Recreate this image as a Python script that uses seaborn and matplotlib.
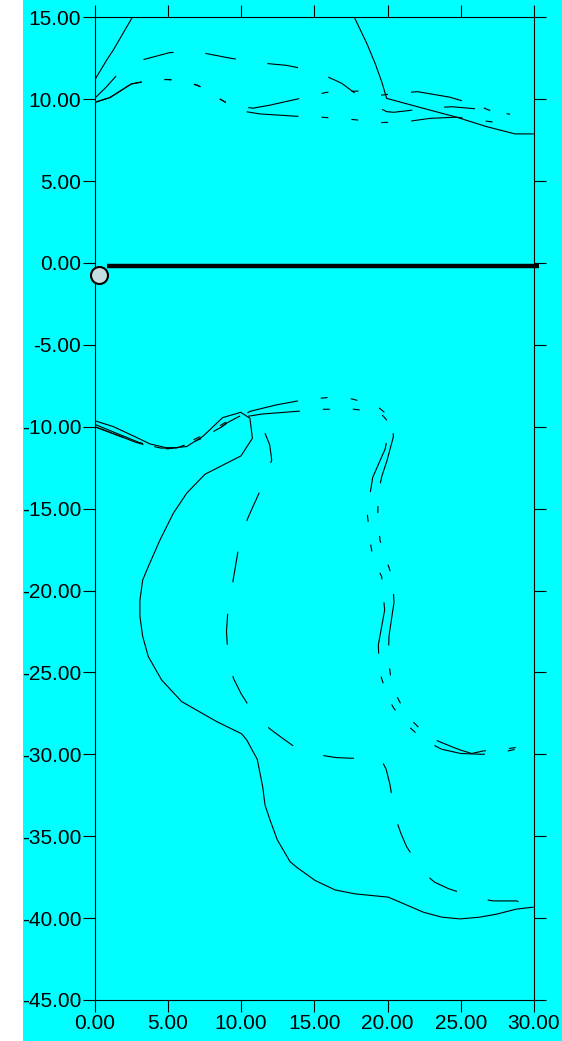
import numpy as np
import pandas as pd
import matplotlib
matplotlib.use("Agg")
import matplotlib.pyplot as plt
import seaborn as sns
from matplotlib.patches import Rectangle
from matplotlib.ticker import FormatStrFormatter, MultipleLocator

# ---------------- data ----------------
# upper region
up_solid1_x = [0.0, 0.82, 1.27, 2.57]
up_solid1_y = [11.17, 12.39, 13.0, 15.0]

up_solid2_x = [17.73, 18.58, 19.15, 19.6, 19.94, 22.0, 24.72, 26.78, 28.71, 29.96]
up_solid2_y = [15.0, 13.41, 12.19, 11.07, 10.05, 9.55, 8.9, 8.32, 7.88, 7.88]

up_dash_x = [0.0, 0.8, 1.45, 2.3, 3.25, 5.1, 6.2, 7.2, 9.1, 11.1, 13.07, 15.05, 16.07, 16.87,
             17.8, 18.58, 19.94, 20.4, 21.4, 22.45, 24.4, 26.43, 28.37]
up_dash_y = [10.05, 10.75, 11.4, 11.9, 12.4, 12.84, 12.9, 12.86, 12.53, 12.23, 12.07, 11.72, 11.3, 10.97,
             10.35, 9.85, 9.24, 9.2, 9.3, 9.44, 9.54, 9.38, 9.08]

up_dd1_x = [0.0, 1.04, 2.5, 3.2, 4.0, 5.0, 5.94, 7.0, 7.83, 8.51, 8.9, 9.65, 9.92, 10.33, 11.29,
            13.75, 15.5, 17.5, 19.5, 21.3, 22.9, 24.7, 26.5, 28.5]
up_dd1_y = [9.8, 10.1, 10.93, 11.05, 11.2, 11.2, 11.13, 10.85, 10.5, 10.03, 9.83, 9.6, 9.5, 9.24, 9.1,
            8.96, 8.9, 8.77, 8.57, 8.63, 8.83, 8.9, 8.69, 8.44]

up_dd2_x = [0.0, 1.04, 2.5, 3.2, 4.0, 5.0, 5.94, 7.0, 7.83, 8.51, 8.9, 9.65, 10.8, 11.93, 13.84,
            15.85, 18.12, 18.8, 19.6, 20.5, 22.04, 24.27, 26.2, 27.3, 28.3]
up_dd2_y = [9.8, 10.1, 10.93, 11.05, 11.2, 11.2, 11.13, 10.85, 10.5, 10.03, 9.83, 9.6, 9.45, 9.63, 10.01,
            10.42, 10.5, 10.42, 10.25, 10.35, 10.46, 10.12, 9.6, 9.2, 8.82]

# lower region
lo_solid_x = [0.0, 1.27, 2.64, 3.78, 5.03, 6.28, 7.42, 8.74, 9.97, 10.6, 10.77, 9.99, 8.78, 7.53,
              6.28, 5.37, 4.46, 3.66, 3.28, 3.09, 3.09, 3.28, 3.66, 4.57, 5.94, 8.33, 10.04, 10.38,
              11.1, 11.47, 11.63, 11.97, 12.47, 13.34, 13.8, 15.05, 16.42, 17.78, 20.05, 22.45,
              23.7, 24.95, 26.3, 27.44, 28.8, 29.96]
lo_solid_y = [-9.63, -9.99, -10.56, -11.05, -11.31, -11.21, -10.56, -9.44, -9.12, -9.48, -10.7,
              -11.78, -12.33, -12.9, -14.06, -15.28, -16.91, -18.54, -19.35, -20.57, -21.59,
              -22.81, -24.03, -25.46, -26.78, -28.0, -28.75, -29.12, -30.3, -31.97, -33.09, -34.0,
              -35.22, -36.55, -36.9, -37.7, -38.28, -38.52, -38.72, -39.64, -39.94, -40.05, -39.94,
              -39.76, -39.45, -39.33]

lo_dash_x = [0.0, 1.5, 3.0, 4.5, 5.6, 6.5, 7.5, 8.63, 9.06, 9.97, 10.72, 11.29, 11.56, 11.95, 12.09,
             11.34, 10.42, 9.81, 9.43, 9.08, 9.0, 9.06, 9.13, 9.47, 10.0, 10.56, 11.29, 11.97,
             12.8, 13.63, 14.93, 15.55, 16.5, 17.55, 18.58, 19.54, 19.9, 20.17, 20.51, 20.9,
             21.3, 22.45, 23.2, 24.15, 25.97, 27.2, 28.8, 29.96]
lo_dash_y = [-10.0, -10.5, -11.0, -11.3, -11.3, -11.0, -10.6, -10.03, -9.75, -9.32, -9.54, -9.89,
             -10.24, -11.1, -12.03, -13.82, -15.65, -17.48, -19.49, -21.45, -22.5, -23.42, -24.04,
             -25.35, -26.3, -27.09, -27.9, -28.45, -29.0, -29.53, -29.97, -30.07, -30.2, -30.24,
             -30.22, -30.28, -30.9, -31.87, -33.8, -34.8, -35.64, -37.22, -37.8, -38.2, -38.74,
             -38.95, -38.95, -39.33]

lo_dd1_x = [0.0, 0.59, 1.5, 2.8, 4.0, 5.0, 6.28, 7.99, 8.63, 9.06, 10.65, 12.38, 14.0, 15.85,
            17.57, 19.26, 19.9, 20.35, 20.4, 19.95, 19.6, 19.37, 19.33, 19.49, 19.67, 20.17,
            20.35, 20.44, 20.35, 20.1, 20.05, 20.22, 20.47, 21.2, 21.54, 22.72, 23.09, 24.54,
            24.95, 25.75, 26.54, 27.68, 28.7, 29.96]
lo_dd1_y = [-10.0, -10.19, -10.5, -10.95, -11.25, -11.35, -11.11, -10.44, -10.03, -9.75, -9.05,
            -8.67, -8.4, -8.22, -8.3, -8.73, -9.2, -10.15, -10.6, -12.1, -13.05, -14.06, -15.45,
            -16.97, -17.42, -18.8, -19.29, -20.74, -21.25, -22.77, -24.04, -25.35, -26.17,
            -27.45, -27.84, -28.88, -29.06, -29.59, -29.73, -29.95, -29.79, -29.73, -29.59, -29.59]

lo_dd2_x = [0.0, 1.5, 3.0, 4.5, 5.5, 6.97, 8.06, 8.9, 9.58, 11.47, 13.5, 15.73, 17.73, 19.0,
            19.7, 19.95, 20.05, 19.83, 18.99, 18.6, 18.87, 19.03, 19.6, 19.8, 19.37, 19.42,
            19.56, 20.0, 20.4, 21.2, 22.0, 22.68, 23.7, 25.0, 26.5, 28.03, 28.7, 29.96]
lo_dd2_y = [-9.85, -10.4, -10.95, -11.3, -11.3, -10.7, -10.2, -9.75, -9.48, -9.22, -9.08, -8.93,
            -8.93, -9.1, -9.34, -9.6, -10.4, -11.37, -13.08, -15.2, -17.32, -18.13, -19.15,
            -21.2, -23.32, -24.44, -25.26, -26.5, -27.15, -28.1, -28.75, -29.22, -29.69,
            -29.95, -30.0, -29.83, -29.7, -29.7]

# thick reference line and marker
ref_x = [0.82, 30.33]
ref_y = [-0.18, -0.18]
marker_x = [0.29]
marker_y = [-0.73]

x_ticks = [0, 5, 10, 15, 20, 25, 30]
y_ticks = [-45, -40, -35, -30, -25, -20, -15, -10, -5, 0, 5, 10, 15]

# ---------------- styling ----------------
CYAN = "#00FFFF"
plt.rcParams["lines.scale_dashes"] = False
sns.set_style("ticks")
plt.rcParams["font.family"] = ["Liberation Sans", "DejaVu Sans"]

DASHED = (0, (22.3, 23.0))
DASHDOTS = (0, (37.4, 16.6, 5.0, 16.6, 5.0, 16.6, 5.0, 16.6))

fig = plt.figure(figsize=(5.62, 10.41), dpi=100, facecolor=CYAN)
fig.patches.append(Rectangle((0, 0), 23 / 562, 1, transform=fig.transFigure,
                             facecolor="white", edgecolor="none", zorder=-5))
ax = fig.add_axes([94.7 / 562, 1 - 1000 / 1041, (534 - 94.7) / 562, (1000 - 17.3) / 1041])
ax.set_facecolor(CYAN)


def draw(xs, ys, ls, lw=0.8):
    df = pd.DataFrame({"x": xs, "y": ys})
    sns.lineplot(data=df, x="x", y="y", sort=False, estimator=None, ax=ax,
                 color="black", linewidth=lw, linestyle=ls)


draw(up_solid1_x, up_solid1_y, "-")
draw(up_solid2_x, up_solid2_y, "-")
draw(up_dash_x, up_dash_y, DASHED)
draw(up_dd1_x, up_dd1_y, DASHDOTS)
draw(up_dd2_x, up_dd2_y, DASHDOTS)

draw(lo_solid_x, lo_solid_y, "-")
draw(lo_dash_x, lo_dash_y, DASHED)
draw(lo_dd1_x, lo_dd1_y, DASHDOTS)
draw(lo_dd2_x, lo_dd2_y, DASHDOTS)

sns.lineplot(x=ref_x, y=ref_y, ax=ax, color="black", linewidth=3.2,
             solid_capstyle="butt", clip_on=False, zorder=4)
sns.scatterplot(x=marker_x, y=marker_y, ax=ax, s=150, color="#C6DDE0",
                edgecolor="black", linewidth=1.5, clip_on=False, zorder=6)

ax.set_xlim(0, 30)
ax.set_ylim(-45, 15)
ax.set_xticks(x_ticks)
ax.set_yticks(y_ticks)
ax.xaxis.set_major_formatter(FormatStrFormatter("%.2f"))
ax.yaxis.set_major_formatter(FormatStrFormatter("%.2f"))
ax.set_xlabel("")
ax.set_ylabel("")

for s in ["left", "right", "top", "bottom"]:
    ax.spines[s].set_visible(True)
    ax.spines[s].set_color("black")
    ax.spines[s].set_linewidth(0.8)

ax.tick_params(axis="both", direction="out", length=8.6, width=0.8, color="black",
               top=True, right=True, labeltop=False, labelright=False,
               labelsize=15, labelcolor="black")
ax.tick_params(axis="y", pad=1)
ax.tick_params(axis="x", pad=1.5)

fig.savefig("out.png", dpi=100, facecolor=fig.get_facecolor())
